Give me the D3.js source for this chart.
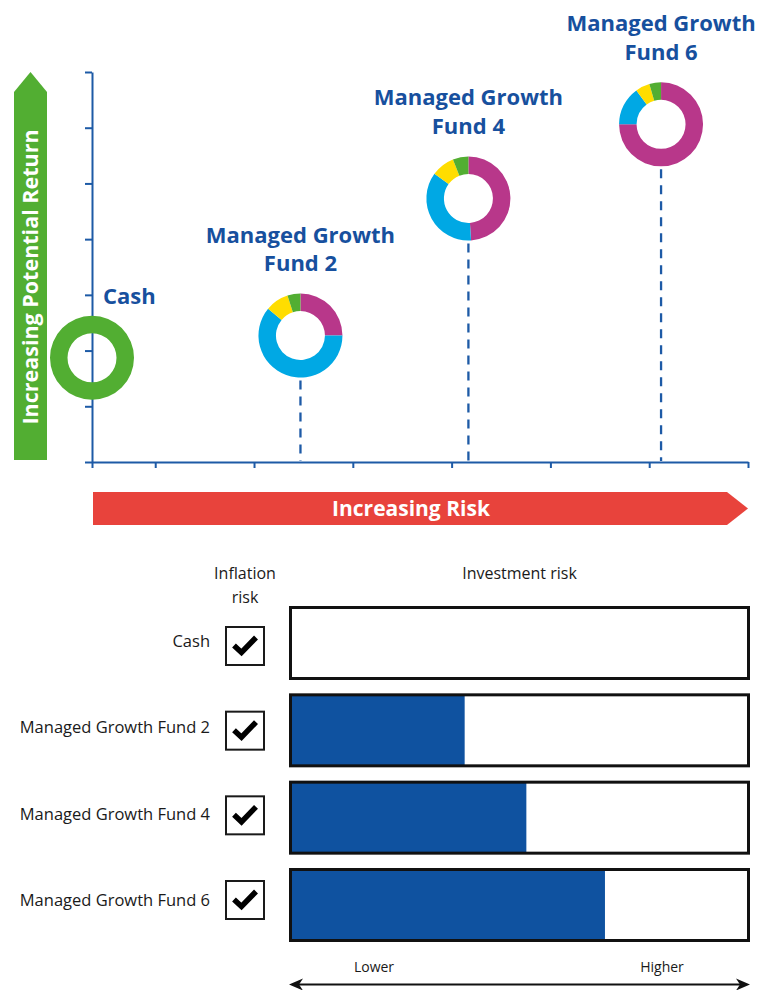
<!DOCTYPE html>
<html>
<head>
<meta charset="utf-8">
<script src="https://cdn.jsdelivr.net/npm/d3@7"></script>
<style>
  html, body { margin: 0; padding: 0; background: #ffffff; }
  svg { display: block; }
</style>
</head>
<body>
<svg id="chart" width="758" height="990"></svg>
<script>
// ---------------- DATA ----------------
const funds = ["Cash", "Managed Growth Fund 2", "Managed Growth Fund 4", "Managed Growth Fund 6"];
const fundLabelLines = [["Cash"], ["Managed Growth", "Fund 2"], ["Managed Growth", "Fund 4"], ["Managed Growth", "Fund 6"]];
const riskPosition = [-0.64, 1.47, 3.17, 5.12];     // x position along "Increasing Risk"
const returnPosition = [1.87, 2.27, 4.73, 6.06];    // y position along "Increasing Potential Return"
const assetColors = ["#B8378A", "#00A8E4", "#FFDD00", "#52AE32"];
const allocMagenta = [0, 25, 49, 75];
const allocBlue = [0, 61, 36, 15];
const allocYellow = [0, 9, 9, 5.5];
const allocGreen = [100, 5, 6, 4.5];
const xTickValues = [-0.64, 0, 1, 2, 3, 4, 5, 6];
const yTickValues = [0, 1, 2, 3, 4, 5, 6, 7];
const inflationRisk = [true, true, true, true];
const investmentRisk = [0, 38, 51.5, 68.7];          // % of bar filled
const headerInflation = ["Inflation", "risk"];
const headerInvestment = "Investment risk";
const scaleLabels = ["Lower", "Higher"];
const arrowLabelX = "Increasing Risk";
const arrowLabelY = "Increasing Potential Return";

// ---------------- SETUP ----------------
const svg = d3.select("#chart");
const BLUE_TXT = "#17509E";
const AXIS = "#1D5AA6";
const FONT = "'Open Sans', Lato, sans-serif";

const x = d3.scaleLinear().domain([-0.64, 6]).range([92, 748]);
const y = d3.scaleLinear().domain([0, 7]).range([462, 72]);

// ---------------- ARROWS ----------------
// Green vertical arrow
svg.append("path")
  .attr("d", `M14,460 L14,92 L30.5,72 L47,92 L47,460 Z`)
  .attr("fill", "#52AE32");
svg.append("text")
  .attr("transform", "translate(38,277) rotate(-90)")
  .attr("text-anchor", "middle")
  .attr("font-family", FONT)
  .attr("font-weight", 700)
  .attr("font-size", 21.5)
  .attr("fill", "#ffffff")
  .text(arrowLabelY);

// Red horizontal arrow
svg.append("path")
  .attr("d", `M93,492 L727,492 L748,508.5 L727,525 L93,525 Z`)
  .attr("fill", "#E8433C");
svg.append("text")
  .attr("x", 411).attr("y", 516)
  .attr("text-anchor", "middle")
  .attr("font-family", FONT)
  .attr("font-weight", 700)
  .attr("font-size", 21)
  .attr("fill", "#ffffff")
  .text(arrowLabelX);

// ---------------- AXES ----------------
const gx = svg.append("g").attr("transform", `translate(0,${y(0)})`)
  .call(d3.axisBottom(x).tickValues(xTickValues).tickSize(6).tickSizeOuter(0).tickFormat(""));
const gy = svg.append("g").attr("transform", `translate(${x(-0.64)},0)`)
  .call(d3.axisLeft(y).tickValues(yTickValues).tickSize(7).tickSizeOuter(0).tickFormat(""));
[gx, gy].forEach(g => {
  g.select(".domain").attr("stroke", AXIS).attr("stroke-width", 2);
  g.selectAll(".tick line").attr("stroke", AXIS).attr("stroke-width", 2);
});

// ---------------- DONUTS ----------------
const R_OUT = 42, R_IN = 24.5;
const pie = d3.pie().sort(null).value(d => d.v);
const arc = d3.arc().innerRadius(R_IN).outerRadius(R_OUT);

funds.forEach((f, i) => {
  const cx = x(riskPosition[i]), cy = y(returnPosition[i]);
  // dashed drop lines
  if (i > 0) {
    svg.append("line")
      .attr("x1", cx).attr("x2", cx)
      .attr("y1", cy + R_OUT + 3).attr("y2", y(0) - 1)
      .attr("stroke", AXIS).attr("stroke-width", 2.3)
      .attr("stroke-dasharray", "9,7");
  }
  const vals = [allocMagenta[i], allocBlue[i], allocYellow[i], allocGreen[i]]
    .map((v, k) => ({ v, c: assetColors[k] })).filter(d => d.v > 0);
  const g = svg.append("g").attr("transform", `translate(${cx},${cy})`);
  g.selectAll("path").data(pie(vals)).join("path")
    .attr("d", arc).attr("fill", d => d.data.c);

  // labels
  const lines = fundLabelLines[i];
  if (i === 0) {
    svg.append("text")
      .attr("x", cx + 11).attr("y", cy - 54)
      .attr("font-family", FONT).attr("font-weight", 700).attr("font-size", 22)
      .attr("fill", BLUE_TXT).text(lines[0]);
  } else {
    const t = svg.append("text")
      .attr("text-anchor", "middle")
      .attr("font-family", FONT).attr("font-weight", 700).attr("font-size", 22)
      .attr("fill", BLUE_TXT);
    lines.forEach((ln, k) => {
      t.append("tspan").attr("x", cx).attr("y", cy - 93 + k * 28.6).text(ln);
    });
  }
});

// ---------------- TABLE ----------------
const boxRow = d3.scalePoint().domain(funds).range([646, 900]);
const labelRow = d3.scalePoint().domain(funds).range([647, 906]);
const barRow = d3.scalePoint().domain(funds).range([643, 905]);
const barX = d3.scaleLinear().domain([0, 100]).range([291, 748]);
const BOX = 40, BAR_H = 70;
const TXT = "#1a1a1a";

// headers
const hInf = svg.append("text").attr("text-anchor", "middle")
  .attr("font-family", FONT).attr("font-size", 16).attr("fill", TXT);
headerInflation.forEach((ln, k) => hInf.append("tspan").attr("x", 245).attr("y", 579 + k * 24).text(ln));
svg.append("text").attr("x", (barX(0) + barX(100)) / 2).attr("y", 579)
  .attr("text-anchor", "middle").attr("font-family", FONT).attr("font-size", 16).attr("fill", TXT)
  .text(headerInvestment);

funds.forEach((f, i) => {
  const by = boxRow(f);
  // row label
  svg.append("text").attr("x", 210).attr("y", labelRow(f))
    .attr("text-anchor", "end").attr("font-family", FONT).attr("font-size", 16.5).attr("fill", TXT)
    .text(f);
  // checkbox
  svg.append("rect").attr("x", 225 + 1).attr("y", by - BOX / 2 + 1)
    .attr("width", BOX - 2).attr("height", BOX - 2)
    .attr("fill", "#fff").attr("stroke", "#1a1a1a").attr("stroke-width", 2);
  if (inflationRisk[i]) {
    const bx = 225, bt = by - BOX / 2;
    svg.append("path")
      .attr("d", `M${bx + 9},${bt + 19.5} L${bx + 16.5},${bt + 26.5} L${bx + 31},${bt + 11.5}`)
      .attr("fill", "none").attr("stroke", "#000").attr("stroke-width", 5.5)
      .attr("stroke-linejoin", "miter").attr("stroke-linecap", "butt");
  }
  // investment risk bar
  const ry = barRow(f);
  svg.append("rect").attr("x", barX(0)).attr("y", ry - BAR_H / 2)
    .attr("width", barX(investmentRisk[i]) - barX(0)).attr("height", BAR_H)
    .attr("fill", "#0F52A0");
  svg.append("rect").attr("x", barX(0) - 0.5).attr("y", ry - BAR_H / 2 - 0.5)
    .attr("width", barX(100) - barX(0) + 1).attr("height", BAR_H + 1)
    .attr("fill", "none").attr("stroke", "#111").attr("stroke-width", 3);
});

// lower / higher
svg.append("text").attr("x", 374).attr("y", 972).attr("text-anchor", "middle")
  .attr("font-family", FONT).attr("font-size", 14).attr("fill", TXT).text(scaleLabels[0]);
svg.append("text").attr("x", 662).attr("y", 972).attr("text-anchor", "middle")
  .attr("font-family", FONT).attr("font-size", 14).attr("fill", TXT).text(scaleLabels[1]);

// double arrow
const ay = 984.5, ax0 = barX(0) - 2, ax1 = barX(100) + 2;
svg.append("line").attr("x1", ax0 + 6).attr("x2", ax1 - 6).attr("y1", ay).attr("y2", ay)
  .attr("stroke", "#111").attr("stroke-width", 2);
svg.append("path")
  .attr("d", `M${ax0},${ay} L${ax0 + 14},${ay - 6} L${ax0 + 10},${ay} L${ax0 + 14},${ay + 6} Z`)
  .attr("fill", "#111");
svg.append("path")
  .attr("d", `M${ax1},${ay} L${ax1 - 14},${ay - 6} L${ax1 - 10},${ay} L${ax1 - 14},${ay + 6} Z`)
  .attr("fill", "#111");
</script>
</body>
</html>
